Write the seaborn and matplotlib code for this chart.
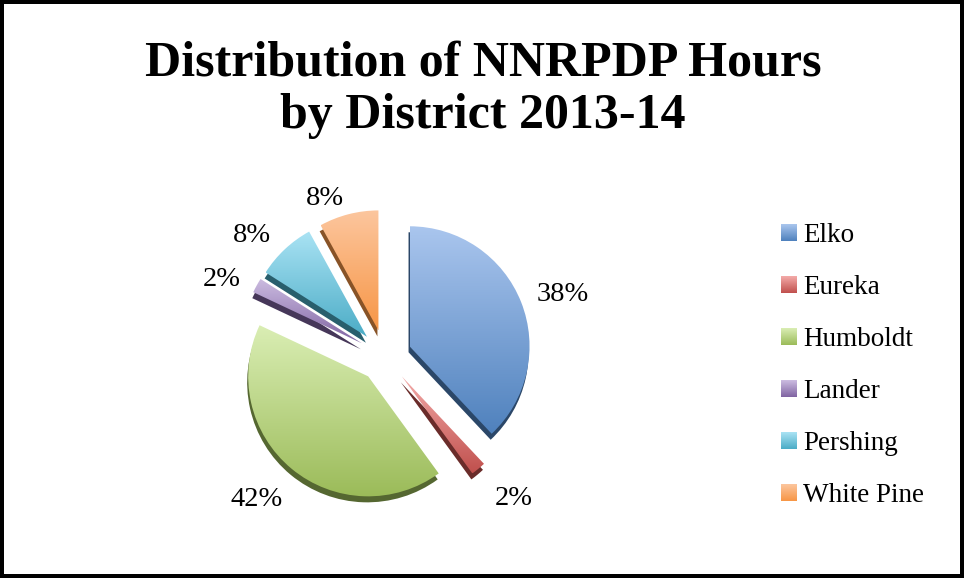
import numpy as np
import matplotlib
matplotlib.use("Agg")
import matplotlib.pyplot as plt
import seaborn as sns
from matplotlib.patches import Wedge, Rectangle
from matplotlib.colors import to_rgb
from matplotlib.legend_handler import HandlerBase
from matplotlib.image import BboxImage
from matplotlib.transforms import Bbox, TransformedBbox

# NNRPDP hours by district, 2013-14 (percent of total)
districts = ["Elko", "Eureka", "Humboldt", "Lander", "Pershing", "White Pine"]
shares = [38, 2, 42, 2, 8, 8]

# slice colours: gradient from a light tint (top) to the base colour (bottom)
base_colors = ["#4F81BD", "#C0504D", "#9BBB59", "#8064A2", "#4BACC6", "#F79646"]
top_colors = ["#AAC6EE", "#F4ABA9", "#DAEEB4", "#CCBCE1", "#AAE3F4", "#FCC69E"]

title_lines = ["Distribution of NNRPDP Hours", "by District 2013-14"]

sns.set_theme(style="white")
plt.rcParams["font.family"] = ["Liberation Serif", "DejaVu Serif"]
plt.rcParams["text.color"] = "black"

W, H = 964, 578
fig = plt.figure(figsize=(W / 100, H / 100), dpi=100)
fig.patch.set_facecolor("white")

R_PX = 120.0
ax = fig.add_axes([185 / W, 22 / H, 400 / W, 400 / H])

wedges, texts, autotexts = ax.pie(
    shares,
    explode=[0.22] * len(shares),
    startangle=90,
    counterclock=False,
    autopct="%1.0f%%",
    pctdistance=1.32,
    radius=1.0,
    wedgeprops=dict(linewidth=0),
    textprops=dict(fontsize=20.5, color="black"),
)
half = 200 / R_PX


def darken(c, f):
    r, g, b = to_rgb(c)
    return (r * f, g * f, b * f)


def gradient(c_top, c_bot, n=256):
    t = np.linspace(0, 1, n)[:, None]
    a = np.array(to_rgb(c_top))
    b = np.array(to_rgb(c_bot))
    rgb = a * (1 - t) + b * t
    return rgb[:, None, :]


# extruded side of each slice, then a vertical gradient clipped to the slice top
dx, dy = -1 / R_PX, -6 / R_PX
for w, ctop, cbase in zip(wedges, top_colors, base_colors):
    cx, cy = w.center
    side = Wedge((cx + dx, cy + dy), w.r, w.theta1, w.theta2,
                 facecolor=darken(cbase, 0.55), edgecolor="none", zorder=1)
    ax.add_patch(side)
    w.set_facecolor("none")
    w.set_zorder(3)
    verts = w.get_patch_transform().transform(w.get_path().vertices)
    x0, y0 = verts.min(axis=0)
    x1, y1 = verts.max(axis=0)
    im = ax.imshow(gradient(ctop, cbase), extent=[x0, x1, y0, y1],
                   aspect="auto", origin="upper", zorder=2, interpolation="bilinear")
    im.set_clip_path(w)

# best-fit placement of the percentage labels (pixel nudges: right, down)
label_nudge_px = [(6, 7), (11, 0), (-11, 1), (-1, 13), (-7, 14), (-14, 21)]
for t, (nx, ny) in zip(autotexts, label_nudge_px):
    x, y = t.get_position()
    t.set_position((x + nx / R_PX, y - ny / R_PX))

ax.set_xlim(-half, half)
ax.set_ylim(-half, half)
ax.axis("off")


class GradientSwatch(HandlerBase):
    """Square legend key filled with a top-to-bottom gradient."""

    def __init__(self, c_top, c_bot):
        super().__init__()
        self.c_top, self.c_bot = c_top, c_bot

    def create_artists(self, legend, orig_handle, xdescent, ydescent,
                       width, height, fontsize, trans):
        bb = TransformedBbox(Bbox.from_bounds(-xdescent, -ydescent, width, height), trans)
        img = BboxImage(bb, interpolation="bilinear", origin="upper")
        img.set_data(gradient(self.c_top, self.c_bot, 64))
        return [img]


handles = [Rectangle((0, 0), 1, 1, facecolor=c, edgecolor="none") for c in base_colors]
hmap = {h: GradientSwatch(t, b) for h, t, b in zip(handles, top_colors, base_colors)}
fig.legend(handles, districts, handler_map=hmap, loc="upper left",
           bbox_to_anchor=(781 / W, 1 - 223 / H), frameon=False,
           fontsize=19.5, handlelength=0.56, handleheight=0.56,
           handletextpad=0.25, labelspacing=1.0, borderpad=0, borderaxespad=0)

fig.text(483 / W, 1 - 64 / H, title_lines[0], ha="center", va="center",
         fontsize=36, fontweight="bold")
fig.text(483 / W, 1 - 116 / H, title_lines[1], ha="center", va="center",
         fontsize=36, fontweight="bold")

fig.add_artist(Rectangle((0, 0), 1, 1, transform=fig.transFigure, fill=False,
                         lw=5.76, edgecolor="black", clip_on=False))

fig.savefig("out.png", dpi=100)
